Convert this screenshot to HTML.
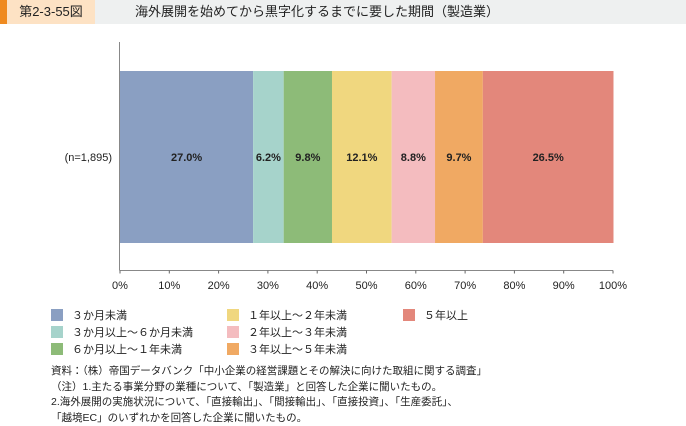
<!DOCTYPE html>
<html><head><meta charset="utf-8"><style>
body{margin:0;width:686px;height:420px;background:#fff;font-family:"Liberation Sans","Noto Sans CJK JP",sans-serif;position:relative;overflow:hidden}
.hdr{position:absolute;top:0;height:24px;font-size:13px;line-height:24px;color:#222}
.leg{position:absolute;font-size:11px;color:#222;line-height:14px}
.leg i{display:inline-block;width:12px;height:12px;vertical-align:-2px;margin-right:9px}
.note{position:absolute;left:51px;font-size:10.5px;color:#222;line-height:15.5px}
</style></head><body>
<div style="position:absolute;left:0;top:0;width:7px;height:24px;background:#ef8a1f"></div>
<div class="hdr" style="left:7px;width:88px;background:#fde2c4;text-align:center">第2-3-55図</div>
<div class="hdr" style="left:95px;width:591px;background:#eef0f0;padding-left:40px;box-sizing:border-box">海外展開を始めてから黒字化するまでに要した期間（製造業）</div>
<svg id="c" width="686" height="300" style="position:absolute;left:0;top:0"></svg>
<div class="leg" style="left:51px;top:309px"><i style="background:#8a9fc2"></i>３か月未満</div>
<div class="leg" style="left:51px;top:326px"><i style="background:#a6d3cb"></i>３か月以上～６か月未満</div>
<div class="leg" style="left:51px;top:343px"><i style="background:#8dbb78"></i>６か月以上～１年未満</div>
<div class="leg" style="left:227px;top:309px"><i style="background:#f0d77f"></i>１年以上～２年未満</div>
<div class="leg" style="left:227px;top:326px"><i style="background:#f4bcbf"></i>２年以上～３年未満</div>
<div class="leg" style="left:227px;top:343px"><i style="background:#f0a963"></i>３年以上～５年未満</div>
<div class="leg" style="left:403px;top:309px"><i style="background:#e3877b"></i>５年以上</div>
<div class="note" style="top:364px">資料：（株）帝国データバンク「中小企業の経営課題とその解決に向けた取組に関する調査」<br>（注）1.主たる事業分野の業種について、「製造業」と回答した企業に聞いたもの。<br>2.海外展開の実施状況について、「直接輸出」、「間接輸出」、「直接投資」、「生産委託」、<br>「越境EC」のいずれかを回答した企業に聞いたもの。</div>
<script>
const categories=["(n=1,895)"];
const values=[27.0,6.2,9.8,12.1,8.8,9.7,26.5];
const labels=["27.0%","6.2%","9.8%","12.1%","8.8%","9.7%","26.5%"];
const ticks=[0,10,20,30,40,50,60,70,80,90,100];
const colors=["#8a9fc2","#a6d3cb","#8dbb78","#f0d77f","#f4bcbf","#f0a963","#e3877b"];
const NS="http://www.w3.org/2000/svg",svg=document.getElementById('c');
const x=v=>120+v*4.93, y0=71, h=172, axY=270.5;
function mk(t,a,txt){const e=document.createElementNS(NS,t);for(const k in a)e.setAttribute(k,a[k]);if(txt!=null)e.textContent=txt;svg.appendChild(e);return e;}
let acc=0;
values.forEach((v,i)=>{
 const r=mk('rect',{x:x(acc),y:y0,width:x(acc+v)-x(acc),height:h,fill:colors[i]});
 
 
 const t=mk('text',{x:x(acc+v/2),y:y0+h/2+4,'text-anchor':'middle','font-size':11,'font-weight':'bold',fill:'#222'},labels[i]);
 
 
 acc+=v;
});
const cl=mk('text',{x:112,y:y0+h/2+4,'text-anchor':'end','font-size':11,fill:'#222'},categories[0]);


const ya=mk('line',{x1:119.5,x2:119.5,y1:42,y2:axY,stroke:'#888','stroke-width':1});


const ax=mk('line',{x1:119.5,x2:x(100),y1:axY,y2:axY,stroke:'#888','stroke-width':1});


ticks.forEach(tk=>{
 const tl=mk('line',{x1:x(tk),x2:x(tk),y1:axY,y2:axY+3,stroke:'#666','stroke-width':1});
 
 
 const t=mk('text',{x:x(tk),y:289,'text-anchor':'middle','font-size':11,fill:'#222'},tk+'%');
 
 
});
</script>
</body></html>
